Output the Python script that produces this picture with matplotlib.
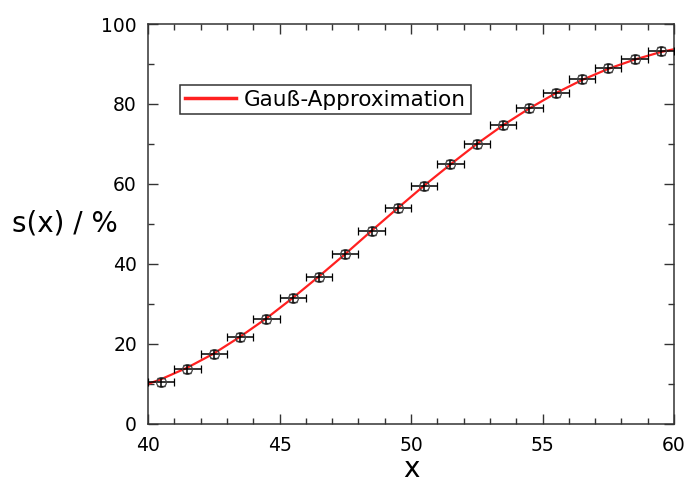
import numpy as np
import matplotlib.pyplot as plt
from matplotlib.ticker import MultipleLocator

# Messpunkte
x_data = [40.5, 41.5, 42.5, 43.5, 44.5, 45.5, 46.5, 47.5, 48.5, 49.5,
          50.5, 51.5, 52.5, 53.5, 54.5, 55.5, 56.5, 57.5, 58.5, 59.5]
s_data = [10.6, 13.8, 17.5, 21.7, 26.2, 31.4, 36.7, 42.4, 48.2, 54.0,
          59.5, 65.0, 70.1, 74.7, 79.1, 82.8, 86.2, 88.9, 91.3, 93.3]
x_err = 0.5
s_err = 1.0

# Gauss-Approximation
x_fit = [40.0, 40.5, 41.5, 42.5, 43.5, 44.5, 45.5, 46.5, 47.5, 48.5, 49.5,
         50.5, 51.5, 52.5, 53.5, 54.5, 55.5, 56.5, 57.5, 58.5, 59.5, 60.0]
s_fit = [10.0, 11.2, 14.1, 17.6, 21.8, 26.4, 31.5, 36.9, 42.5, 48.3, 54.0,
         59.6, 64.9, 70.0, 74.7, 78.9, 82.7, 86.0, 88.8, 91.1, 93.0, 93.7]

fig = plt.figure(figsize=(6.88, 4.83), dpi=100)
ax = fig.add_axes([0.2151, 0.1222, 0.7646, 0.8281])

ax.plot(x_fit, s_fit, color='#ff2020', lw=1.6, label='Gauß-Approximation', zorder=2)
ax.errorbar(x_data, s_data, xerr=x_err, yerr=s_err, fmt='o', ms=7, mfc='none',
            mec='#404040', mew=0.9, ecolor='black', elinewidth=1.1, capsize=3,
            capthick=1.1, zorder=3)

ax.set_xlim(40, 60)
ax.set_ylim(0, 100)
ax.xaxis.set_major_locator(MultipleLocator(5))
ax.xaxis.set_minor_locator(MultipleLocator(1))
ax.yaxis.set_major_locator(MultipleLocator(20))
ax.yaxis.set_minor_locator(MultipleLocator(10))
ax.tick_params(which='both', direction='in', top=True, right=True, width=1.0,
               color='#333333')
ax.tick_params(which='major', length=7, labelsize=13.5)
ax.tick_params(axis='x', which='major', pad=9)
ax.tick_params(axis='y', which='major', pad=8)
ax.tick_params(which='minor', length=4)
for sp in ax.spines.values():
    sp.set_linewidth(1.1)
    sp.set_color('#333333')

ax.set_xlabel('x', fontsize=20, labelpad=0)
ax.set_ylabel('s(x) / %', fontsize=20, rotation=0, va='center', ha='center')
ax.yaxis.set_label_coords(-0.158, 0.5)

leg = ax.legend(loc='upper left', bbox_to_anchor=(0.061, 0.8475), borderaxespad=0,
                fontsize=15.5, fancybox=False, edgecolor='#333333', framealpha=1,
                handlelength=2.4, handletextpad=0.35, borderpad=0.22)
leg.get_frame().set_linewidth(1.1)
for h in leg.get_lines():
    h.set_linewidth(2.5)

fig.savefig('out.png', dpi=100)
